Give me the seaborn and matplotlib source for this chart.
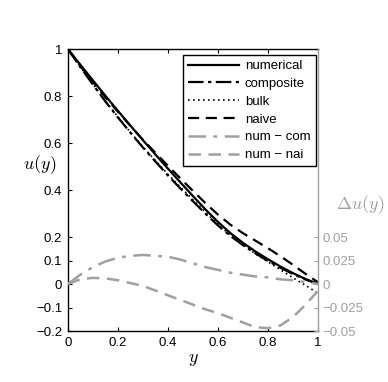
import numpy as np
import pandas as pd
import seaborn as sns
import matplotlib
matplotlib.use('Agg')
import matplotlib.pyplot as plt

# values
y_grid = [0.0, 0.05, 0.1, 0.15, 0.2, 0.25, 0.3, 0.35, 0.4, 0.45, 0.5,
          0.55, 0.6, 0.65, 0.7, 0.75, 0.8, 0.85, 0.9, 0.95, 1.0]
numerical = [1.0, 0.933, 0.867, 0.801, 0.737, 0.674, 0.612, 0.551, 0.491, 0.432, 0.374,
             0.317, 0.264, 0.216, 0.175, 0.138, 0.105, 0.074, 0.046, 0.021, 0.0]
composite = [1.0, 0.923, 0.849, 0.777, 0.709, 0.644, 0.581, 0.521, 0.462, 0.406, 0.352,
             0.299, 0.249, 0.204, 0.165, 0.130, 0.098, 0.069, 0.042, 0.019, 0.0]
bulk = [1.0, 0.925, 0.851, 0.779, 0.711, 0.646, 0.584, 0.525, 0.467, 0.412, 0.358,
        0.305, 0.254, 0.207, 0.166, 0.128, 0.094, 0.060, 0.026, -0.006, -0.04]
naive = [1.0, 0.928, 0.8605, 0.795, 0.733, 0.673, 0.614, 0.558, 0.503, 0.449, 0.396,
         0.344, 0.295, 0.252, 0.216, 0.184, 0.152, 0.118, 0.081, 0.043, 0.007]
num_com = [0.0, 0.010, 0.018, 0.024, 0.028, 0.030, 0.031, 0.030, 0.029, 0.026, 0.022,
           0.018, 0.015, 0.012, 0.010, 0.008, 0.007, 0.005, 0.004, 0.002, 0.0]
num_nai = [0.0, 0.005, 0.0065, 0.006, 0.004, 0.001, -0.002, -0.007, -0.012, -0.017, -0.022,
           -0.027, -0.031, -0.036, -0.041, -0.046, -0.047, -0.044, -0.035, -0.022, -0.007]

u_ticks = [-0.2, -0.1, 0, 0.1, 0.2, 0.4, 0.6, 0.8, 1]
u_labels = ['\u22120.2', '\u22120.1', '0', '0.1', '0.2', '0.4', '0.6', '0.8', '1']
du_ticks = [-0.05, -0.025, 0, 0.025, 0.05]
du_labels = ['\u22120.05', '\u22120.025', '0', '0.025', '0.05']
x_ticks = [0, 0.2, 0.4, 0.6, 0.8, 1]
x_labels = ['0', '0.2', '0.4', '0.6', '0.8', '1']

df = pd.DataFrame({'y': y_grid, 'numerical': numerical, 'composite': composite,
                   'bulk': bulk, 'naive': naive, 'num \u2212 com': num_com,
                   'num \u2212 nai': num_nai})

plt.rcParams['font.family'] = ['Liberation Sans', 'DejaVu Sans']
plt.rcParams['mathtext.fontset'] = 'cm'
plt.rcParams['font.size'] = 9.5

GRAY = '#a0a0a0'

fig = plt.figure(figsize=(3.88, 3.82), dpi=100)
ax = fig.add_axes([0.175, 0.1335, 0.645, 0.738])
ax2 = ax.twinx()

styles = {'numerical': (0, 'k', 1.6),
          'composite': ((0, (7, 2, 1.5, 2)), 'k', 1.6),
          'bulk': ((0, (1, 2)), 'k', 1.2),
          'naive': ((0, (5, 3)), 'k', 1.6)}
for col, (ls, c, lw) in styles.items():
    sns.lineplot(data=df, x='y', y=col, ax=ax, color=c, lw=lw,
                 linestyle='-' if ls == 0 else ls, label=col, legend=False)

sns.lineplot(data=df, x='y', y='num \u2212 com', ax=ax2, color=GRAY, lw=1.8,
             linestyle=(0, (7, 3, 1.5, 3)), label='num \u2212 com', legend=False)
sns.lineplot(data=df, x='y', y='num \u2212 nai', ax=ax2, color=GRAY, lw=1.8,
             linestyle=(0, (5, 3)), label='num \u2212 nai', legend=False)

ax.set_xlim(0, 1)
ax.set_ylim(-0.2, 1)
ax2.set_ylim(-0.05, 0.25)
ax.set_xticks(x_ticks, x_labels)
ax.set_yticks(u_ticks, u_labels)
ax2.set_yticks(du_ticks, du_labels)

ax.tick_params(direction='in', length=3, top=True, right=False, pad=4)
ax2.tick_params(direction='in', length=3, colors=GRAY, pad=3)
for s in ['left', 'bottom', 'top']:
    ax.spines[s].set_linewidth(1.0)
ax.spines['right'].set_visible(False)
for s in ['left', 'bottom', 'top']:
    ax2.spines[s].set_visible(False)
ax2.spines['right'].set_color(GRAY)
ax2.spines['right'].set_linewidth(1.0)

ax.set_xlabel('$y$', fontsize=13, labelpad=2)
ax.set_ylabel('$u(y)$', fontsize=13, rotation=0, va='center', ha='center')
ax.yaxis.set_label_coords(-0.112, 0.589)
ax2.set_ylabel('$\\Delta u(y)$', fontsize=13, rotation=0, color=GRAY,
               va='center', ha='center')
ax2.yaxis.set_label_coords(1.168, 0.447)

h1, l1 = ax.get_legend_handles_labels()
h2, l2 = ax2.get_legend_handles_labels()
leg = ax2.legend(h1 + h2, l1 + l2, loc='upper right', bbox_to_anchor=(0.99, 0.98),
                 fancybox=False, edgecolor='k', framealpha=1, fontsize=9.5,
                 handlelength=3.9, handletextpad=0.4, labelspacing=0.42,
                 borderpad=0.4, borderaxespad=0)
leg.get_frame().set_linewidth(1.0)

fig.savefig('out.png', dpi=100)
